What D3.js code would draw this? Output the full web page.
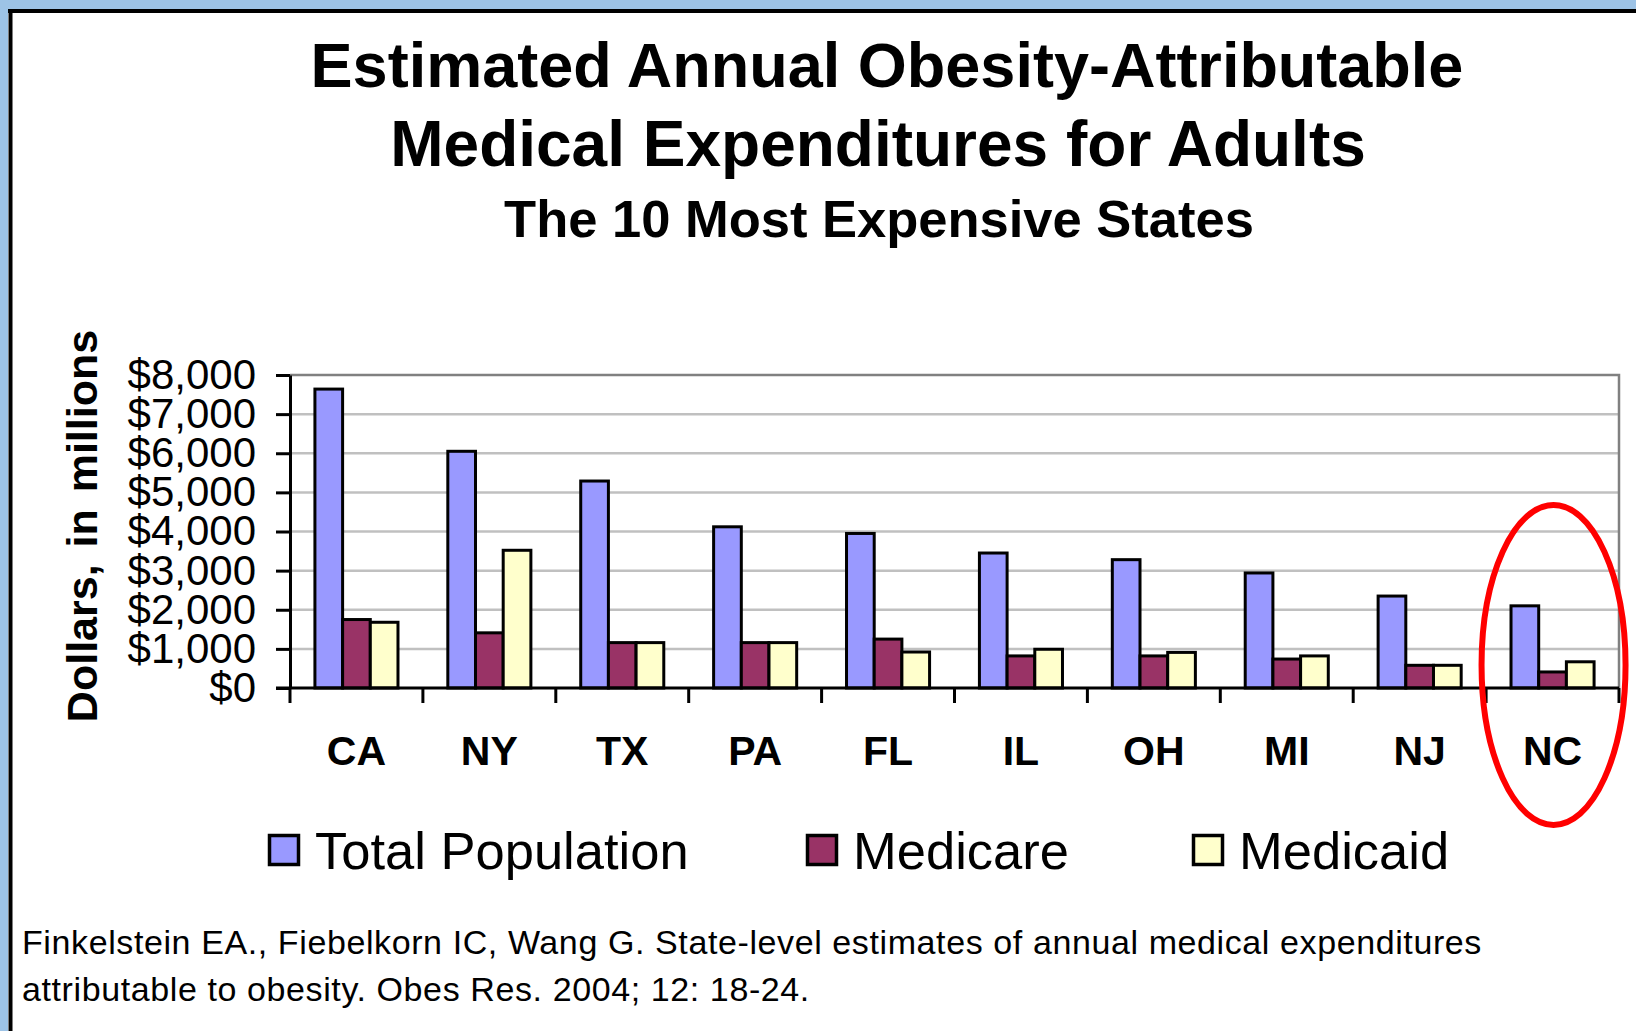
<html>
<script src='https://d3js.org/d3.v7.min.js'></script>
<style>
    body { margin: 0; background: #fff; }
    text { font-family: 'Liberation Sans', Arial, sans-serif; }
</style>

<body onload='init()'>
    <svg width=1636 height=1031></svg>
    <script>
        // data (millions of dollars)
        const states = ['CA', 'NY', 'TX', 'PA', 'FL', 'IL', 'OH', 'MI', 'NJ', 'NC'];
        const totalPop = [7640, 6050, 5290, 4120, 3950, 3450, 3280, 2940, 2350, 2100];
        const medicare = [1750, 1410, 1160, 1160, 1250, 820, 820, 740, 580, 410];
        const medicaid = [1680, 3520, 1160, 1160, 920, 990, 910, 820, 580, 670];
        const seriesNames = ['Total Population', 'Medicare', 'Medicaid'];
        const yTicks = [0, 1000, 2000, 3000, 4000, 5000, 6000, 7000, 8000];
        const titleLines = ['Estimated Annual Obesity-Attributable', 'Medical Expenditures for Adults'];
        const subtitle = 'The 10 Most Expensive States';
        const footnote = ['Finkelstein EA., Fiebelkorn IC, Wang G. State-level estimates of annual medical expenditures',
                          'attributable to obesity. Obes Res. 2004; 12: 18-24.'];

        function init() {
            const svg = d3.select('svg');
            const colors = ['#9999ff', '#993366', '#ffffcc'];
            const series = [totalPop, medicare, medicaid];

            // slide frame
            svg.append('rect').attr('width', 1636).attr('height', 1031).attr('fill', '#fff');
            svg.append('rect').attr('x', 0).attr('y', 0).attr('width', 1636).attr('height', 9).attr('fill', '#9dc3e6');
            svg.append('rect').attr('x', 0).attr('y', 0).attr('width', 8).attr('height', 1031).attr('fill', '#9dc3e6');
            svg.append('line').attr('x1', 10.5).attr('x2', 10.5).attr('y1', 9).attr('y2', 1031).attr('stroke', '#000').attr('stroke-width', 4);
            svg.append('line').attr('x1', 8).attr('x2', 1636).attr('y1', 11).attr('y2', 11).attr('stroke', '#000').attr('stroke-width', 4);

            // titles
            svg.append('text').attr('x', 887).attr('y', 87).attr('text-anchor', 'middle')
                .attr('font-size', 63).attr('font-weight', 'bold').text(titleLines[0]);
            svg.append('text').attr('x', 878).attr('y', 166).attr('text-anchor', 'middle')
                .attr('font-size', 64).attr('font-weight', 'bold').text(titleLines[1]);
            svg.append('text').attr('x', 879).attr('y', 237).attr('text-anchor', 'middle')
                .attr('font-size', 52.5).attr('font-weight', 'bold').text(subtitle);

            const left = 290, right = 1619, top = 375, bottom = 688;
            const x = d3.scaleBand().domain(states).range([left, right]);
            const y = d3.scaleLinear().domain([0, 8000]).range([bottom, top]);
            const groupW = x.bandwidth() * 0.625;
            const barW = groupW / 3;

            // gridlines
            svg.append('g').selectAll('line').data(yTicks.slice(1, -1)).enter().append('line')
                .attr('x1', left).attr('x2', right)
                .attr('y1', d => y(d)).attr('y2', d => y(d))
                .attr('stroke', '#c0c0c0').attr('stroke-width', 2.5);
            // plot area border (top, right)
            svg.append('path')
                .attr('d', `M${left},${y(8000)}H${right}V${bottom}`)
                .attr('fill', 'none').attr('stroke', '#808080').attr('stroke-width', 2.5);

            // bars
            series.forEach((vals, s) => {
                svg.append('g').selectAll('rect').data(vals).enter().append('rect')
                    .attr('x', (d, i) => x(states[i]) + (x.bandwidth() - groupW) / 2 + s * barW)
                    .attr('y', d => y(d))
                    .attr('width', barW)
                    .attr('height', d => y(0) - y(d))
                    .attr('fill', colors[s])
                    .attr('stroke', '#000').attr('stroke-width', 3);
            });

            // y axis
            const yAxis = svg.append('g')
                .attr('transform', 'translate(' + left + ',0)')
                .call(d3.axisLeft(y).tickValues(yTicks).tickSize(14).tickSizeOuter(0).tickPadding(20)
                    .tickFormat(d => '$' + d3.format(',')(d)));
            yAxis.selectAll('path, line').attr('stroke', '#000').attr('stroke-width', 3);
            yAxis.selectAll('text').attr('font-size', 42).attr('fill', '#000')
                .style('font-family', "'Liberation Sans', Arial, sans-serif");

            // x axis: labels at centres, ticks at category boundaries
            const xAxis = svg.append('g')
                .attr('transform', 'translate(0,' + bottom + ')')
                .call(d3.axisBottom(x).tickSize(0).tickPadding(48));
            xAxis.select('.domain').remove();
            xAxis.selectAll('text').attr('font-size', 41).attr('font-weight', 'bold').attr('fill', '#000')
                .style('font-family', "'Liberation Sans', Arial, sans-serif");
            svg.append('line').attr('x1', left - 14).attr('x2', right).attr('y1', bottom).attr('y2', bottom)
                .attr('stroke', '#000').attr('stroke-width', 3);
            svg.append('g').selectAll('line').data(states.map(d => x(d)).concat([right])).enter().append('line')
                .attr('x1', d => d).attr('x2', d => d).attr('y1', bottom).attr('y2', bottom + 15)
                .attr('stroke', '#000').attr('stroke-width', 3);

            // y axis title
            svg.append('text')
                .attr('transform', 'translate(97,526) rotate(-90)')
                .attr('text-anchor', 'middle').attr('font-size', 43).attr('font-weight', 'bold')
                .attr('word-spacing', 5)
                .text('Dollars, in millions');

            // legend
            const legendX = [268, 806, 1192];
            const lg = svg.append('g').selectAll('g').data(seriesNames).enter().append('g')
                .attr('transform', (d, i) => 'translate(' + legendX[i] + ',834)');
            lg.append('rect').attr('x', 1.5).attr('y', 1.5).attr('width', 29).attr('height', 29)
                .attr('fill', (d, i) => colors[i]).attr('stroke', '#000').attr('stroke-width', 3.5);
            lg.append('text').attr('x', 47).attr('y', 35).attr('font-size', 52.5).text(d => d);

            // highlight ellipse around NC
            svg.append('ellipse').attr('cx', x('NC') + x.bandwidth() / 2 + 1).attr('cy', 665)
                .attr('rx', 72).attr('ry', 160)
                .attr('fill', 'none').attr('stroke', '#ff0000').attr('stroke-width', 6);

            // source note
            svg.append('g').selectAll('text').data(footnote).enter().append('text')
                .attr('x', 22).attr('y', (d, i) => 954 + i * 47)
                .attr('font-size', 34).attr('letter-spacing', 0.6).text(d => d);
        }
    </script>
</body>

</html>
